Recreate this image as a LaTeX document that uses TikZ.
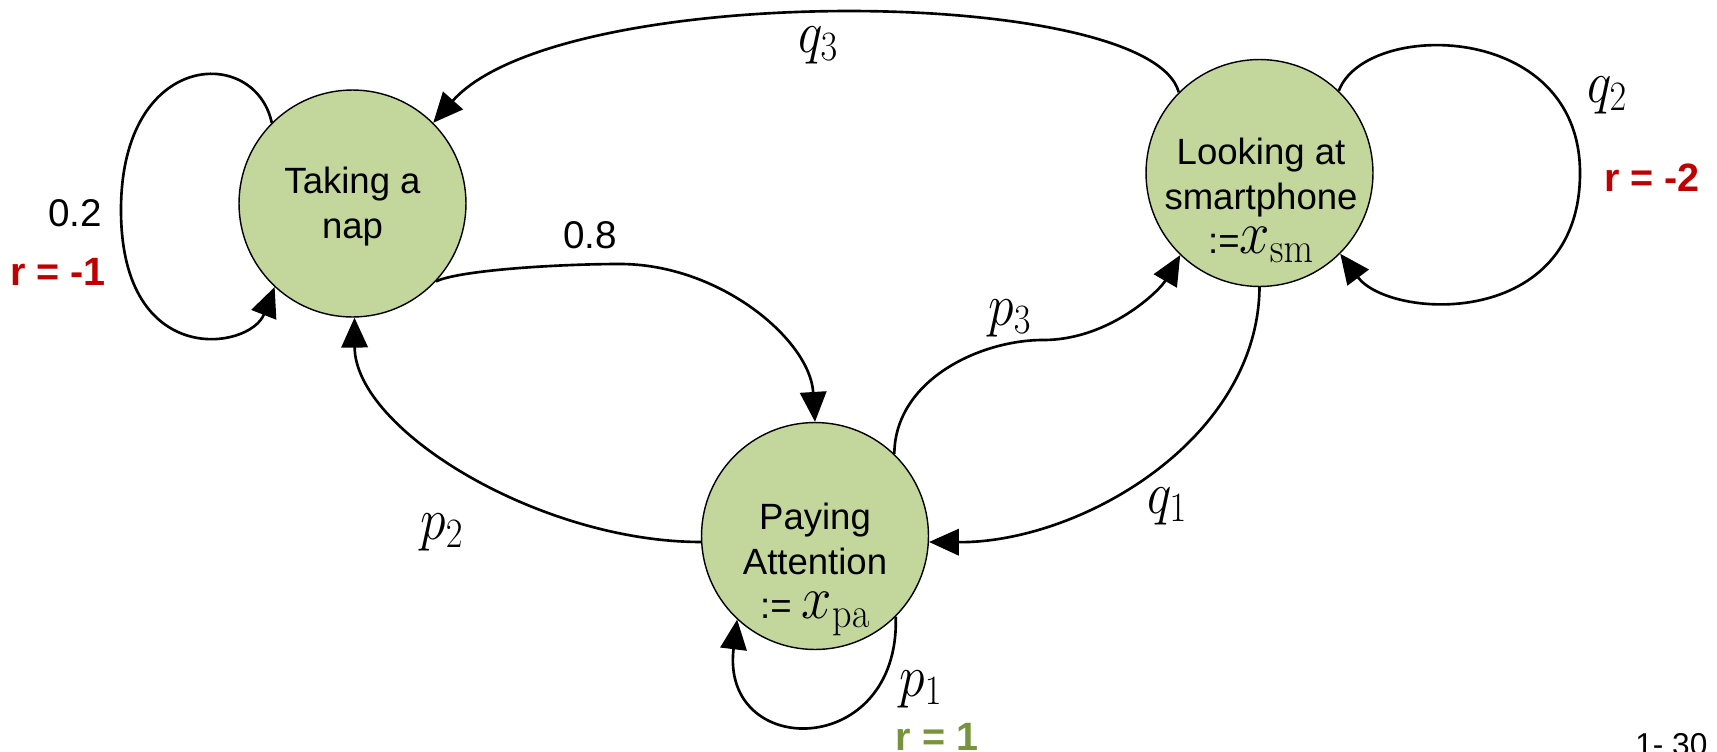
\RequirePackage{fix-cm}
\documentclass[tikz,border=0pt]{standalone}
\usepackage[no-math]{fontspec}
\setmainfont{Liberation Sans}
\usepackage{graphicx}
\usetikzlibrary{arrows.meta}
\definecolor{nodegreen}{HTML}{C3D69B}
\definecolor{rred}{HTML}{C00000}
\definecolor{rgreen}{HTML}{77933C}
\newcommand{\mthl}[1]{\scalebox{1}[1.15]{\fontsize{29.5}{32}\selectfont$#1$}}
\newcommand{\mthn}[1]{\scalebox{1}[1.12]{\fontsize{31}{32}\selectfont$#1$}}
\begin{document}
\begin{tikzpicture}[x=0.02cm,y=-0.02cm,
  state/.style={circle,draw=black,line width=0.8pt,fill=nodegreen,minimum size=4.54cm,inner sep=0pt},
  stext/.style={anchor=north,align=center,inner sep=0pt,font=\fontsize{20.8}{25.2}\selectfont},
  edge/.style={draw=black,line width=1.5pt,-{Triangle[length=17pt,width=15pt]}},
  lbl/.style={inner sep=0pt,font=\fontsize{22}{25}\selectfont},
  rlbl/.style={inner sep=0pt,font=\fontsize{22.5}{25}\selectfont\bfseries}]
\path[use as bounding box,fill=white] (0,0) rectangle (1717,751);

% states
\node[state] (nap) at (352.5,203.5) {};
\node[state] (sm) at (1259.5,173) {};
\node[state] (pa) at (815,536) {};
\node[stext] (napt) at (352.5,167) {Taking a\\nap};
\node[stext] (smt) at (1261,138) {Looking at\\smartphone\\:=\mthn{x_{\mathrm{sm}}}};
\node[stext] (pat) at (815,503) {Paying\\Attention\\:= \mthn{x_{\mathrm{pa}}}};

% self loops
\draw[edge] (nap.135) .. controls (255,45) and (121,50) .. (121,210)
  .. controls (121,370) and (250,350) .. (nap.-133);
\draw[edge] (sm.46) .. controls (1365,20) and (1580,20) .. (1580,173)
  .. controls (1580,330) and (1390,320) .. (sm.-45);
\draw[edge] (pa.-45) .. controls (900,760) and (720,760) .. (pa.-133);

% transitions
\draw[edge] (sm.135) .. controls (1150,-15) and (560,-20) .. (nap.45);
\draw[edge] (nap.-43.5) .. controls (460,270) and (560,264) .. (620,264)
  .. controls (720,264) and (810,340) .. (pa.north);
\draw[edge] (pa.183) .. controls (540,542) and (355,430) .. (nap.-89);
\draw[edge] (pa.46) .. controls (895,380) and (980,340) .. (1043,340)
  .. controls (1110,340) and (1160,290) .. (sm.-134);
\draw[edge] (sm.south) .. controls (1258,440) and (1080,543) .. (pa.-3.5);

% labels
\node[lbl] (l02) at (75,213) {0.2};
\node[rlbl,text=rred] (r1) at (58,272) {r = -1};
\node[lbl] (l08) at (590,235) {0.8};
\node[inner sep=0pt] (q3) at (818,45) {\mthl{q_3}};
\node[inner sep=0pt] (q2) at (1607,95) {\mthl{q_2}};
\node[rlbl,text=rred] (r2) at (1652,178) {r = -2};
\node[inner sep=0pt] (p3) at (1010,318) {\mthl{p_3}};
\node[inner sep=0pt] (q1) at (1167,506) {\mthl{q_1}};
\node[inner sep=0pt] (p2) at (442,532) {\mthl{p_2}};
\node[inner sep=0pt] (p1) at (921,689) {\mthl{p_1}};
\node[rlbl,text=rgreen] (r3) at (937,737) {r = 1};
\node[inner sep=0pt,anchor=north west,font=\fontsize{18}{20}\selectfont] (pg) at (1635,733) {1- 30};
\end{tikzpicture}
\end{document}
